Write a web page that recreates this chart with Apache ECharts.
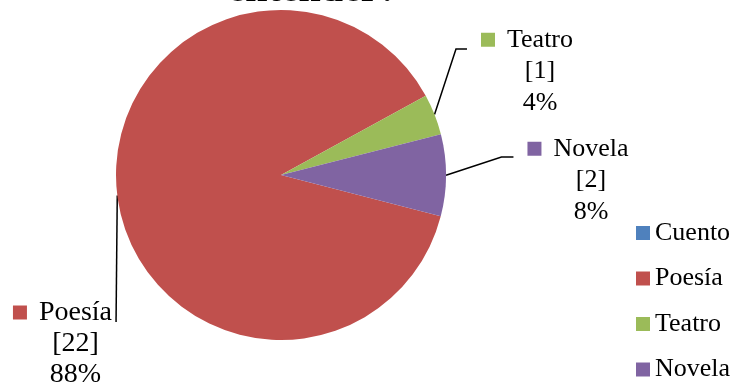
<!DOCTYPE html>
<html><head><meta charset="utf-8">
<script src="https://cdn.jsdelivr.net/npm/echarts@6/dist/echarts.min.js"></script>
<style>html,body{margin:0;padding:0;background:#fff}#c{width:734px;height:385px}</style>
</head><body><div id="c"></div>
<script>
const categories = ['Cuento', 'Poesía', 'Teatro', 'Novela'];
const values = [0, 22, 1, 2];
const colors = ['#4F81BD', '#C0504D', '#9BBB59', '#8064A2'];
const titleText = 'entender?';

const FONT = 'Liberation Serif';
// label block placement (layout only)
const labelPlace = {
  1: { cx: 75.5, top: 297, side: 'right', st: 'tb', ly: 25 },
  2: { cx: 540, top: 24, side: 'left', bend: 11, st: 't', ly: 25 },
  3: { cx: 591, top: 133, side: 'left', bend: 12, st: 't', ly: 24 }
};

const rich = {
  g: { width: 12, fontFamily: FONT, fontSize: 26, lineHeight: 30 },
  p: { width: 14, fontFamily: FONT, fontSize: 26, lineHeight: 30 },
  t: { fontFamily: FONT, fontSize: 26, lineHeight: 31.5, color: '#000' },
  tb: { fontFamily: FONT, fontSize: 28, lineHeight: 31, color: '#000' }
};
colors.forEach((c, i) => { rich['sq' + i] = { width: 14, height: 14, backgroundColor: c }; });

const chart = echarts.init(document.getElementById('c'));
chart.setOption({
  animation: false,
  color: colors,
  textStyle: { fontFamily: FONT },
  title: {
    text: titleText, left: 313, top: -29.5, textAlign: 'center', padding: 0,
    textStyle: { fontFamily: FONT, fontWeight: 'bold', fontSize: 40, lineHeight: 40, color: '#000' }
  },
  legend: {
    data: categories, orient: 'vertical', left: 636, top: 219, padding: 0,
    icon: 'rect', itemWidth: 14, itemHeight: 14, itemGap: 17.5, selectedMode: false,
    textStyle: { fontFamily: FONT, fontSize: 26, lineHeight: 28, color: '#000' }
  },
  series: [{
    type: 'pie',
    center: [281, 175],
    radius: 165,
    startAngle: 345.5,
    clockwise: true,
    avoidLabelOverlap: false,
    data: categories.map((n, i) => ({
      name: n, value: values[i],
      label: values[i] === 0 ? { show: false } : undefined,
      labelLine: values[i] === 0 ? { show: false } : undefined
    })),
    label: {
      show: true, position: 'outside',
      fontFamily: FONT, fontSize: 26, lineHeight: 30, color: '#000', align: 'center',
      formatter: p => {
        const s = (labelPlace[p.dataIndex] || {}).st || 't';
        return '{sq' + p.dataIndex + '|}{g|}{' + s + '|' + p.name + '}{g|}{p|}\n{' + s + '|[' + p.value + ']}\n{' + s + '|' + Math.round(p.percent) + '%}';
      },
      rich: rich
    },
    labelLine: { show: true, length: 10, length2: 10, lineStyle: { color: '#000', width: 1.5 } },
    labelLayout: function (params) {
      const pl = labelPlace[params.dataIndex];
      if (!pl) return {};
      const w = params.labelRect.width;
      const start = params.labelLinePoints ? params.labelLinePoints[0] : [0, 0];
      let pts;
      const ey = pl.top + pl.ly;
      if (pl.side === 'left') {
        const ex = pl.cx - w / 2 - 14;
        pts = [start, [ex - pl.bend, ey], [ex, ey]];
      } else {
        const ex = pl.cx + w / 2 - 26 + 4;
        pts = [start, [ex, ey], [ex, ey]];
      }
      return { x: pl.cx, y: pl.top, align: 'center', verticalAlign: 'top', labelLinePoints: pts };
    }
  }]
});
</script>
</body></html>
